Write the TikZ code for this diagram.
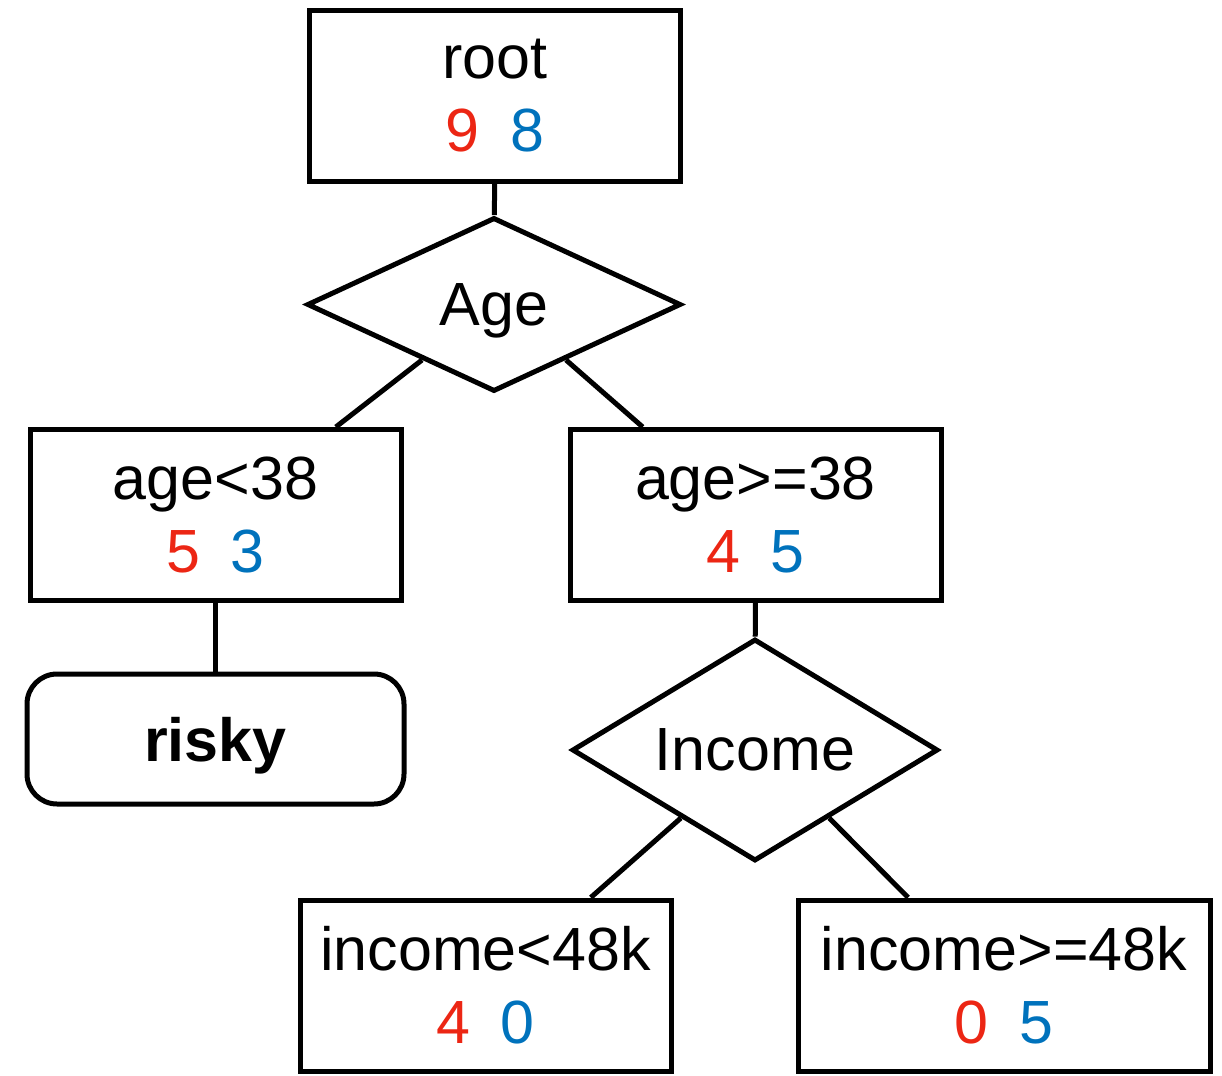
\documentclass[tikz,border=0pt]{standalone}
\usepackage{fontspec}
\setmainfont{Liberation Sans}
\usepackage{xcolor}
\usepackage{tikz}
\usetikzlibrary{positioning, shapes.geometric, calc}

\definecolor{negC}{RGB}{236,38,20}
\definecolor{posC}{RGB}{0,114,188}
\newcommand{\splitcnt}[2]{\textcolor{negC}{#1}\hspace{0.5em}\textcolor{posC}{#2}}

\begin{document}
\begin{tikzpicture}[
    x=0.5pt, y=-0.5pt,
    % split boxes: condition on top, class counts below
    block/.style={draw, rectangle, line width=2.5pt, align=center,
                  font=\fontsize{30.5}{36.5}\selectfont,
                  minimum width=185.5pt, minimum height=85.5pt, inner sep=0pt},
    % attribute tests
    test/.style={draw, diamond, line width=2.5pt, inner sep=0pt,
                 text depth=0pt, font=\fontsize{30.5}{36.5}\selectfont},
    % leaf
    leaf/.style={draw, rectangle, rounded corners=15pt, line width=2.5pt,
                 text depth=0pt, font=\fontsize{30.5}{36.5}\selectfont\bfseries,
                 minimum width=188.5pt, minimum height=65pt},
    edge/.style={line width=2.5pt}
]
\useasboundingbox (0,0) rectangle (1222,1076);

% root
\node[block] (root) at (495, 95.5) {root\\\splitcnt{9}{8}};

% first test
\node[test, shape aspect=2.19, minimum width=187pt, minimum height=87pt] (age) at (494, 304.5) {Age};

% age branches
\node[block] (young) at (215.5, 515) {age<38\\\splitcnt{5}{3}};
\node[block] (old) at (755.5, 515) {age>=38\\\splitcnt{4}{5}};

% leaf under age<38
\node[leaf] (risky) at (215.5, 739) {risky};

% second test
\node[test, shape aspect=1.66, minimum width=183pt, minimum height=111pt] (income) at (755, 750) {Income};

% income branches
\node[block] (low) at (485.5, 985.5) {income<48k\\\splitcnt{4}{0}};
\node[block, minimum width=206pt] (high) at (1004, 985.5) {income>=48k\\\splitcnt{0}{5}};

% connectors
\draw[edge] (root) -- (age);
\draw[edge] ($(age.west)!0.62!(age.south)$) -- ($(young.north west)!0.82!(young.north east)$);
\draw[edge] ($(age.south)!0.38!(age.east)$) -- ($(old.north west)!0.2!(old.north east)$);
\draw[edge] (young) -- (risky);
\draw[edge] (old) -- (income);
\draw[edge] ($(income.west)!0.6!(income.south)$) -- ($(low.north west)!0.78!(low.north east)$);
\draw[edge] ($(income.south)!0.4!(income.east)$) -- ($(high.north west)!0.27!(high.north east)$);

\end{tikzpicture}
\end{document}
